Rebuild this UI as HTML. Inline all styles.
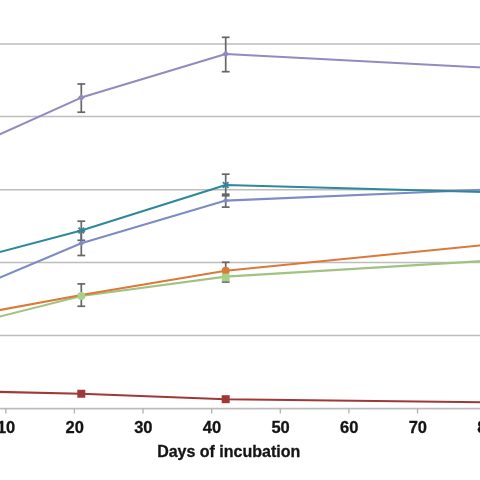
<!DOCTYPE html>
<html><head><meta charset="utf-8"><style>
html,body{margin:0;padding:0;background:#fff;width:480px;height:480px;overflow:hidden;position:relative}
svg{display:block;filter:blur(0.5px)}
text{font-family:"Liberation Sans",sans-serif;font-weight:bold;font-size:17px;fill:#141414;stroke:#141414;stroke-width:0.3px}
</style></head><body>
<svg width="500" height="500" viewBox="-10 -10 500 500" style="position:absolute;left:-10px;top:-10px">
<rect x="-10" y="-10" width="500" height="500" fill="#fff"/>
<line x1="-10" y1="43.9" x2="490" y2="43.9" stroke="#bdbdbd" stroke-width="1.5"/>
<line x1="-10" y1="116.5" x2="490" y2="116.5" stroke="#bdbdbd" stroke-width="1.5"/>
<line x1="-10" y1="189.7" x2="490" y2="189.7" stroke="#bdbdbd" stroke-width="1.5"/>
<line x1="-10" y1="262.6" x2="490" y2="262.6" stroke="#bdbdbd" stroke-width="1.5"/>
<line x1="-10" y1="335.6" x2="490" y2="335.6" stroke="#bdbdbd" stroke-width="1.5"/>
<line x1="-10" y1="408.6" x2="490" y2="408.6" stroke="#bdbdbd" stroke-width="1.7"/>
<line x1="5.80" y1="408.6" x2="5.80" y2="413.5" stroke="#b0b0b0" stroke-width="1.3"/>
<line x1="74.42" y1="408.6" x2="74.42" y2="413.5" stroke="#b0b0b0" stroke-width="1.3"/>
<line x1="143.04" y1="408.6" x2="143.04" y2="413.5" stroke="#b0b0b0" stroke-width="1.3"/>
<line x1="211.66" y1="408.6" x2="211.66" y2="413.5" stroke="#b0b0b0" stroke-width="1.3"/>
<line x1="280.28" y1="408.6" x2="280.28" y2="413.5" stroke="#b0b0b0" stroke-width="1.3"/>
<line x1="348.90" y1="408.6" x2="348.90" y2="413.5" stroke="#b0b0b0" stroke-width="1.3"/>
<line x1="417.52" y1="408.6" x2="417.52" y2="413.5" stroke="#b0b0b0" stroke-width="1.3"/>
<line x1="486.14" y1="408.6" x2="486.14" y2="413.5" stroke="#b0b0b0" stroke-width="1.3"/>
<path d="M-10.00,319.02 L81.30,296.00 L225.70,276.60 L490.00,260.59" fill="none" stroke="#a0c382" stroke-width="2.1" stroke-linejoin="round"/>
<path d="M-10.00,311.85 L81.30,295.00 L225.70,270.80 L490.00,244.51" fill="none" stroke="#dc7838" stroke-width="2.1" stroke-linejoin="round"/>
<path d="M-10.00,281.72 L81.30,243.20 L225.70,200.60 L490.00,189.38" fill="none" stroke="#7d8cc4" stroke-width="2.1" stroke-linejoin="round"/>
<path d="M-10.00,254.64 L81.30,230.50 L225.70,185.00 L490.00,192.28" fill="none" stroke="#2f879c" stroke-width="2.1" stroke-linejoin="round"/>
<path d="M-10.00,138.70 L81.30,97.60 L225.70,54.00 L490.00,67.93" fill="none" stroke="#928bbf" stroke-width="2.1" stroke-linejoin="round"/>
<path d="M-10.00,391.67 L81.30,393.75 L225.70,399.20 L490.00,402.42" fill="none" stroke="#a03838" stroke-width="2.1" stroke-linejoin="round"/>
<line x1="81.3" y1="84.0" x2="81.3" y2="112.2" stroke="#666666" stroke-width="1.7"/><line x1="77.39999999999999" y1="84.0" x2="85.2" y2="84.0" stroke="#666666" stroke-width="1.7"/><line x1="77.39999999999999" y1="112.2" x2="85.2" y2="112.2" stroke="#666666" stroke-width="1.7"/>
<line x1="225.7" y1="37.3" x2="225.7" y2="71.7" stroke="#666666" stroke-width="1.7"/><line x1="221.79999999999998" y1="37.3" x2="229.6" y2="37.3" stroke="#666666" stroke-width="1.7"/><line x1="221.79999999999998" y1="71.7" x2="229.6" y2="71.7" stroke="#666666" stroke-width="1.7"/>
<line x1="81.3" y1="221.2" x2="81.3" y2="240.3" stroke="#666666" stroke-width="1.7"/><line x1="77.39999999999999" y1="221.2" x2="85.2" y2="221.2" stroke="#666666" stroke-width="1.7"/><line x1="77.39999999999999" y1="240.3" x2="85.2" y2="240.3" stroke="#666666" stroke-width="1.7"/>
<line x1="81.3" y1="231.0" x2="81.3" y2="255.5" stroke="#666666" stroke-width="1.7"/><line x1="77.39999999999999" y1="231.0" x2="85.2" y2="231.0" stroke="#666666" stroke-width="1.7"/><line x1="77.39999999999999" y1="255.5" x2="85.2" y2="255.5" stroke="#666666" stroke-width="1.7"/>
<line x1="225.7" y1="174.2" x2="225.7" y2="195.8" stroke="#666666" stroke-width="1.7"/><line x1="221.79999999999998" y1="174.2" x2="229.6" y2="174.2" stroke="#666666" stroke-width="1.7"/><line x1="221.79999999999998" y1="195.8" x2="229.6" y2="195.8" stroke="#666666" stroke-width="1.7"/>
<line x1="225.7" y1="194.2" x2="225.7" y2="207.1" stroke="#666666" stroke-width="1.7"/><line x1="221.79999999999998" y1="194.2" x2="229.6" y2="194.2" stroke="#666666" stroke-width="1.7"/><line x1="221.79999999999998" y1="207.1" x2="229.6" y2="207.1" stroke="#666666" stroke-width="1.7"/>
<line x1="81.3" y1="283.9" x2="81.3" y2="306.25" stroke="#666666" stroke-width="1.7"/><line x1="77.39999999999999" y1="283.9" x2="85.2" y2="283.9" stroke="#666666" stroke-width="1.7"/><line x1="77.39999999999999" y1="306.25" x2="85.2" y2="306.25" stroke="#666666" stroke-width="1.7"/>
<line x1="225.7" y1="262.3" x2="225.7" y2="282.0" stroke="#666666" stroke-width="1.7"/><line x1="221.79999999999998" y1="262.3" x2="229.6" y2="262.3" stroke="#666666" stroke-width="1.7"/><line x1="221.79999999999998" y1="282.0" x2="229.6" y2="282.0" stroke="#666666" stroke-width="1.7"/>
<path d="M81.3,94.1 L84.8,97.6 L81.3,101.1 L77.8,97.6 Z" fill="#928bbf"/>
<path d="M225.7,50.5 L229.2,54.0 L225.7,57.5 L222.2,54.0 Z" fill="#928bbf"/>
<path d="M78.5,227.7 L84.1,233.3 M78.5,233.3 L84.1,227.7" stroke="#2f879c" stroke-width="1.8"/>
<path d="M222.89999999999998,182.2 L228.5,187.8 M222.89999999999998,187.8 L228.5,182.2" stroke="#2f879c" stroke-width="1.8"/>
<path d="M81.3,240.2 L84.3,243.2 L81.3,246.2 L78.3,243.2 Z" fill="#7d8cc4"/>
<path d="M225.7,197.6 L228.7,200.6 L225.7,203.6 L222.7,200.6 Z" fill="#7d8cc4"/>
<circle cx="225.7" cy="270.7" r="4.0" fill="#dc7838"/>
<circle cx="81.3" cy="296.0" r="4.0" fill="#a8d08a"/>
<rect x="221.79999999999998" y="273.6" width="7.8" height="7.8" fill="#a8d08a"/>
<rect x="77.3" y="389.75" width="8" height="8" fill="#a03838"/>
<rect x="221.7" y="395.2" width="8" height="8" fill="#a03838"/>
<text x="6.10" y="432.6" text-anchor="middle" style="font-size:16.5px">10</text>
<text x="74.72" y="432.6" text-anchor="middle" style="font-size:16.5px">20</text>
<text x="143.34" y="432.6" text-anchor="middle" style="font-size:16.5px">30</text>
<text x="211.96" y="432.6" text-anchor="middle" style="font-size:16.5px">40</text>
<text x="280.58" y="432.6" text-anchor="middle" style="font-size:16.5px">50</text>
<text x="349.20" y="432.6" text-anchor="middle" style="font-size:16.5px">60</text>
<text x="417.82" y="432.6" text-anchor="middle" style="font-size:16.5px">70</text>
<text x="486.44" y="432.6" text-anchor="middle" style="font-size:16.5px">80</text>
<text x="228.7" y="456.5" text-anchor="middle" style="font-size:16px">Days of incubation</text>
</svg>
</body></html>
